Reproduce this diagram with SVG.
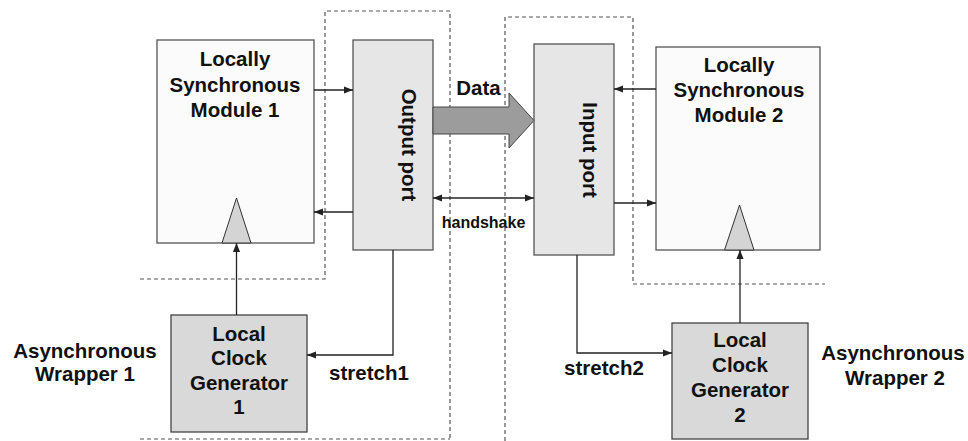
<svg xmlns="http://www.w3.org/2000/svg" width="968" height="441" viewBox="0 0 968 441">
  <defs>
    <style>
      .lbl { font-family: "Liberation Sans", Arial, sans-serif; font-weight: bold; font-size: 20.5px; fill: #111; text-anchor: middle; }
      .small { font-size: 16px; }
      .module { fill: #fbfbfb; stroke: #555; stroke-width: 1.3; }
      .port { fill: #e6e6e6; stroke: #555; stroke-width: 1.3; }
      .clkgen { fill: #d9d9d9; stroke: #444; stroke-width: 1.3; }
      .clk { fill: #d4d4d4; stroke: #333; stroke-width: 1; }
      .wrap { fill: none; stroke: #555; stroke-width: 1.2; stroke-dasharray: 4 3; }
      .wire { fill: none; stroke: #222; stroke-width: 1.3; }
    </style>
    <marker id="ah" viewBox="0 0 10 10" refX="10" refY="5" markerWidth="9" markerHeight="9" markerUnits="userSpaceOnUse" orient="auto-start-reverse">
      <path d="M0,1 L10,5 L0,9 z" fill="#222"/>
    </marker>
  </defs>

  <!-- asynchronous wrapper boundaries -->
  <g id="wrapper1">
    <path class="wrap" d="M140,279 H325 V11 H450 V441"/>
    <path class="wrap" d="M140,439 H450"/>
    <text class="lbl" x="85" y="358">Asynchronous</text>
    <text class="lbl" x="85" y="381">Wrapper 1</text>
  </g>
  <g id="wrapper2">
    <path class="wrap" d="M505,441 V17 H633 V284 H825"/>
    <text class="lbl" x="893" y="360">Asynchronous</text>
    <text class="lbl" x="895" y="385">Wrapper 2</text>
  </g>

  <g id="module1">
    <rect class="module" x="157" y="40" width="157" height="203"/>
    <polygon class="clk" points="236.5,198 222,243 251,243"/>
    <text class="lbl" x="235" y="66">Locally</text>
    <text class="lbl" x="235" y="92">Synchronous</text>
    <text class="lbl" x="235" y="117">Module 1</text>
  </g>

  <g id="output-port">
    <rect class="port" x="353" y="40" width="80" height="210"/>
    <text class="lbl" transform="translate(401.5,145) rotate(90)">Output port</text>
  </g>

  <g id="input-port">
    <rect class="port" x="534" y="44" width="80" height="211"/>
    <text class="lbl" transform="translate(583,150) rotate(90)">Input port</text>
  </g>

  <g id="module2">
    <rect class="module" x="656" y="47" width="164" height="203"/>
    <polygon class="clk" points="739.5,205 724.5,250 754,250"/>
    <text class="lbl" x="739" y="72">Locally</text>
    <text class="lbl" x="739" y="97">Synchronous</text>
    <text class="lbl" x="739" y="122">Module 2</text>
  </g>

  <g id="clockgen1">
    <rect class="clkgen" x="171" y="315" width="136" height="117"/>
    <text class="lbl" x="239" y="341">Local</text>
    <text class="lbl" x="239" y="365">Clock</text>
    <text class="lbl" x="239" y="390">Generator</text>
    <text class="lbl" x="239" y="414">1</text>
  </g>

  <g id="clockgen2">
    <rect class="clkgen" x="672" y="323" width="136" height="116"/>
    <text class="lbl" x="740" y="347">Local</text>
    <text class="lbl" x="740" y="372">Clock</text>
    <text class="lbl" x="740" y="397">Generator</text>
    <text class="lbl" x="740" y="422">2</text>
  </g>

  <g id="connectors">
    <!-- data bus -->
    <polygon points="433,107 509,107 509,93 534,120.5 509,148 509,134 433,134" fill="#9c9c9c" stroke="#444" stroke-width="1"/>
    <text class="lbl" x="478.5" y="95">Data</text>

    <path class="wire" d="M314,90 H353" marker-end="url(#ah)"/>
    <path class="wire" d="M353,212 H314" marker-end="url(#ah)"/>
    <path class="wire" d="M433,198 H534" marker-start="url(#ah)" marker-end="url(#ah)"/>
    <text class="lbl small" x="483.5" y="228">handshake</text>
    <path class="wire" d="M656,89 H614" marker-end="url(#ah)"/>
    <path class="wire" d="M614,203 H656" marker-end="url(#ah)"/>

    <path class="wire" d="M236.5,315 V243" marker-end="url(#ah)"/>
    <path class="wire" d="M740,323 V250" marker-end="url(#ah)"/>

    <path class="wire" d="M393,250 V355 H307" marker-end="url(#ah)"/>
    <text class="lbl" x="369" y="380">stretch1</text>
    <path class="wire" d="M577,255 V353 H672" marker-end="url(#ah)"/>
    <text class="lbl" x="604" y="375">stretch2</text>
  </g>
</svg>
